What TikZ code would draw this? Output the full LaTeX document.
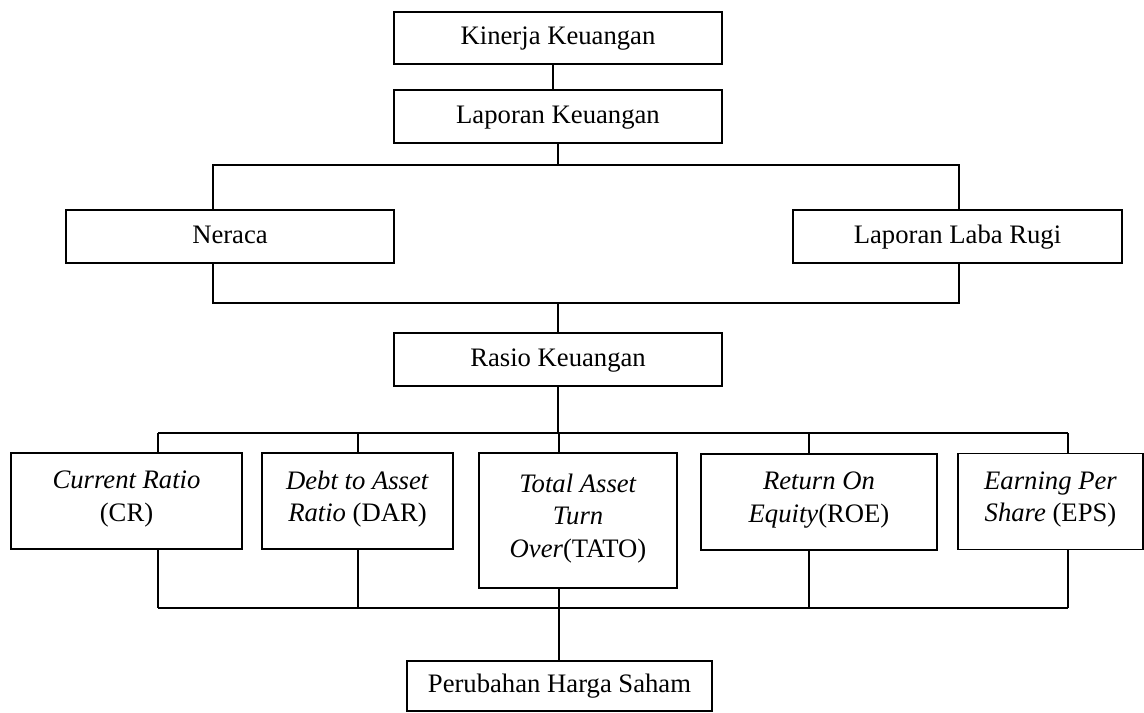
\documentclass[tikz,border=0pt]{standalone}
\usepackage{fontspec}
\setmainfont{Liberation Serif}

\tikzset{
  box/.style={draw, line width=0.7pt, align=center, inner sep=2pt,
    font=\fontsize{12}{14.7}\selectfont, execute at begin node=\strut},
  link/.style={line width=0.7pt}
}

\begin{document}
\begin{tikzpicture}[x=0.45pt,y=-0.45pt]
\useasboundingbox (0,0) rectangle (1144,712);

% Top boxes
\node[box, minimum width=147.6pt, minimum height=23.4pt] (kin) at (558,38) {Kinerja Keuangan};
\node[box, minimum width=147.6pt, minimum height=23.85pt] (lap) at (558,116.5) {Laporan Keuangan};

% Statements
\node[box, minimum width=147.6pt, minimum height=23.85pt] (ner) at (230,236.5) {Neraca};
\node[box, minimum width=148pt, minimum height=23.85pt] (lrg) at (957.5,236.5) {Laporan Laba Rugi};
\node[box, minimum width=147.6pt, minimum height=23.85pt] (ras) at (558,359.5) {Rasio Keuangan};

% Ratios
\node[box, minimum width=103.95pt, minimum height=43.2pt] (cr) at (126.5,501) {\textit{Current Ratio}\\(CR)};
\node[box, minimum width=85.95pt, minimum height=43.2pt] (dar) at (357.5,501) {\textit{Debt to Asset}\\\textit{Ratio} (DAR)};
\node[box, minimum width=89.1pt, minimum height=60.75pt] (tato) at (578,520.5) {\textit{Total Asset}\\\textit{Turn}\\\textit{Over}(TATO)};
\node[box, minimum width=106.2pt, minimum height=43.2pt] (roe) at (819,502) {\textit{Return On}\\\textit{Equity}(ROE)};
\node[box, minimum width=83.25pt, minimum height=43.2pt] (eps) at (1050.5,501.5) {\textit{Earning Per}\\\textit{Share} (EPS)};

\node[box, minimum width=137.25pt, minimum height=22.5pt] (phs) at (559.5,686) {Perubahan Harga Saham};

% Bus levels and taps
\coordinate (busA) at (0,165);
\coordinate (busB) at (0,303);
\coordinate (busC) at (0,433);
\coordinate (busD) at (0,608);
\coordinate (xner) at (213,0);
\coordinate (xlrg) at (959,0);

% Connectors
\draw[link] ([xshift=-2.25pt]kin.south) -- ([xshift=-2.25pt]lap.north);
\draw[link] (lap.south) -- (lap.south |- busA);
\draw[link] (xner |- ner.north) -- (xner |- busA) -- (xlrg |- busA) -- (xlrg |- lrg.north);
\draw[link] (xner |- ner.south) -- (xner |- busB) -- (xlrg |- busB) -- (xlrg |- lrg.south);
\draw[link] (ras.north) -- (ras.north |- busB);
\draw[link] (ras.south) -- (ras.south |- busC);

\foreach \n/\x in {cr/158,dar/358,tato/559,roe/809,eps/1068} {
  \coordinate (t-\n) at (\x,0);
  \draw[link] (t-\n |- busC) -- (t-\n |- \n.north);
  \draw[link] (t-\n |- \n.south) -- (t-\n |- busD);
}
\draw[link] (t-cr |- busC) -- (t-eps |- busC);
\draw[link] (t-cr |- busD) -- (t-eps |- busD);
\draw[link] (t-tato |- busD) -- (t-tato |- phs.north);

\end{tikzpicture}
\end{document}
